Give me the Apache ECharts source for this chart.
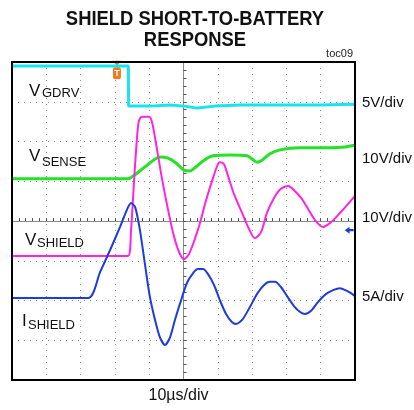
<!DOCTYPE html>
<html>
<head>
<meta charset="utf-8">
<script src="https://cdn.jsdelivr.net/npm/echarts@6/dist/echarts.min.js"></script>
<style>
html,body{margin:0;padding:0;background:#fff;}
#chart{width:414px;height:410px;}
</style>
</head>
<body>
<div id="chart"></div>
<script>
// Time in microseconds (10 us/div, screen spans -50..50 us); trace values in screen divisions (-4..4)
const vgdrv = [[-50,3.90],[-16.1,3.90],[-16.0,2.89],[-15.6,2.87],[-9.8,2.89],[-3.9,2.92],[0.4,2.89],[3.9,2.84],[9.2,2.89],[16.5,2.92],[28.1,2.92],[39.8,2.92],[50,2.94]];
const vsense = [[-50,1.06],[-16.2,1.06],[-14.7,1.13],[-12.7,1.26],[-9.8,1.46],[-6.9,1.61],[-4.5,1.58],[-2.2,1.46],[0.1,1.28],[1.9,1.26],[3.6,1.36],[6.0,1.53],[8.6,1.64],[13.6,1.66],[18.5,1.64],[20.0,1.56],[21.4,1.48],[22.9,1.53],[25.2,1.69],[28.1,1.79],[34.0,1.84],[42.7,1.84],[47.1,1.86],[50,1.91]];
const vshield = [[-50,-0.88],[-16.2,-0.88],[-15.3,-0.23],[-14.4,1.03],[-13.6,2.04],[-13.0,2.52],[-12.1,2.62],[-10.1,2.62],[-9.2,2.49],[-7.7,1.79],[-6.3,1.08],[-4.5,0.28],[-2.8,-0.38],[-1.3,-0.78],[0.1,-0.96],[1.6,-0.83],[3.4,-0.43],[4.8,-0.05],[6.6,0.53],[8.6,1.08],[9.8,1.38],[10.6,1.48],[11.8,1.43],[13.0,1.13],[14.7,0.68],[17.1,0.20],[19.1,-0.20],[20.8,-0.43],[22.6,-0.28],[24.3,0.20],[26.4,0.58],[28.4,0.81],[30.5,0.88],[32.5,0.75],[34.3,0.58],[36.0,0.35],[38.3,0.03],[40.7,-0.15],[43.0,-0.03],[45.6,0.20],[47.7,0.40],[50,0.63]];
const ishield = [[-50,-1.94],[-27.8,-1.94],[-24.3,-1.28],[-21.4,-0.73],[-18.5,-0.15],[-16.5,0.28],[-15.3,0.45],[-14.1,0.35],[-12.7,-0.23],[-11.2,-1.11],[-9.8,-1.91],[-8.3,-2.49],[-6.9,-2.92],[-5.4,-3.12],[-3.9,-2.92],[-2.5,-2.49],[-0.7,-1.99],[1.0,-1.56],[2.8,-1.31],[4.2,-1.21],[5.7,-1.21],[7.1,-1.33],[8.9,-1.61],[10.6,-1.99],[12.4,-2.34],[14.1,-2.54],[15.3,-2.59],[17.1,-2.49],[19.4,-2.16],[21.4,-1.84],[23.5,-1.61],[25.2,-1.53],[26.7,-1.53],[28.4,-1.66],[30.2,-1.89],[32.2,-2.14],[34.0,-2.29],[35.4,-2.34],[37.2,-2.26],[39.2,-2.04],[41.5,-1.84],[43.6,-1.74],[45.6,-1.69],[47.7,-1.76],[50,-1.89]];
const triggerMark = [-19.4, 3.72];
const triggerTop = [-19.4, 3.97];
const levelMark = [48.3, -0.23];
const scaleLabels = ['5V/div','10V/div','10V/div','5A/div'];
const timeLabel = '10\u00b5s/div';
const xRange = [-50, 50];
const yRange = [-4, 4];

const font = '"Liberation Sans", Arial, Helvetica, sans-serif';

const chart = echarts.init(document.getElementById('chart'));
const rightY = [103,159,218,297];
const graphics = [
  {type:'text', x:195, y:19, scaleX:0.92, style:{text:'SHIELD SHORT-TO-BATTERY', font:'bold 20px '+font, fill:'#111', textAlign:'center', textVerticalAlign:'middle'}},
  {type:'text', x:195, y:40.5, scaleX:0.92, style:{text:'RESPONSE', font:'bold 20px '+font, fill:'#111', textAlign:'center', textVerticalAlign:'middle'}},
  {type:'text', x:353, y:53.5, style:{text:'toc09', font:'11px '+font, fill:'#222', textAlign:'right', textVerticalAlign:'middle'}},
  {type:'text', x:178.5, y:395.5, style:{text:timeLabel, font:'16px '+font, fill:'#111', textAlign:'center', textVerticalAlign:'middle'}},
  {type:'text', x:29, y:91, style:{text:'V', font:'17px '+font, fill:'#111', textVerticalAlign:'middle'}},
  {type:'text', x:42, y:93, style:{text:'GDRV', font:'13px '+font, fill:'#111', textVerticalAlign:'middle'}},
  {type:'text', x:29, y:156, style:{text:'V', font:'17px '+font, fill:'#111', textVerticalAlign:'middle'}},
  {type:'text', x:42, y:162.5, style:{text:'SENSE', font:'13px '+font, fill:'#111', textVerticalAlign:'middle'}},
  {type:'text', x:25, y:240, style:{text:'V', font:'17px '+font, fill:'#111', textVerticalAlign:'middle'}},
  {type:'text', x:37, y:243.5, style:{text:'SHIELD', font:'13px '+font, fill:'#111', textVerticalAlign:'middle'}},
  {type:'text', x:22, y:321, style:{text:'I', font:'17px '+font, fill:'#111', textVerticalAlign:'middle'}},
  {type:'text', x:28, y:325, style:{text:'SHIELD', font:'13px '+font, fill:'#111', textVerticalAlign:'middle'}}
];
scaleLabels.forEach((s,i)=>{
  graphics.push({type:'text', x:362, y:rightY[i], style:{text:s, font:'15px '+font, fill:'#111', textVerticalAlign:'middle'}});
});

function trace(name, data, color, width, smooth, extra){
  return Object.assign({
    name, type:'line', data, showSymbol:false, symbol:'none',
    smooth: smooth, clip:true,
    lineStyle:{color, width}, itemStyle:{color}, z:5
  }, extra||{});
}

chart.setOption({
  animation:false,
  grid:{left:12, right:59, top:62, bottom:30, containLabel:false, outerBoundsMode:'none'},
  xAxis:{
    type:'value', min:xRange[0], max:xRange[1], interval:10,
    axisLine:{lineStyle:{color:'#8a8a8a', width:1}},
    axisLabel:{color:'rgba(0,0,0,0)', fontSize:8, inside:true},
    axisTick:{show:true, inside:true, length:3, lineStyle:{color:'#555', width:1}},
    minorTick:{show:true, splitNumber:5, length:3, lineStyle:{color:'#555', width:1}},
    splitLine:{show:true, lineStyle:{color:'#8c8c8c', type:[1,5], width:1}}
  },
  yAxis:{
    type:'value', min:yRange[0], max:yRange[1], interval:1,
    axisLine:{lineStyle:{color:'#8a8a8a', width:1}},
    axisLabel:{color:'rgba(0,0,0,0)', fontSize:8, inside:true},
    axisTick:{show:true, inside:true, length:3, lineStyle:{color:'#555', width:1}},
    minorTick:{show:true, splitNumber:5, length:3, lineStyle:{color:'#555', width:1}},
    splitLine:{show:true, lineStyle:{color:'#8c8c8c', type:[1,5], width:1}}
  },
  graphic:graphics,
  series:[
    trace('VGDRV', vgdrv, '#18E4F0', 3, false, {
      markPoint:{silent:true, data:[
        {coord:triggerTop, symbol:'triangle', symbolSize:[9,5], symbolRotate:180, itemStyle:{color:'#F07A1E'}, label:{show:false}},
        {coord:triggerMark, symbol:'roundRect', symbolSize:[8,12], itemStyle:{color:'#F07A1E'}, label:{show:true, formatter:'T', color:'#fff', fontSize:9, fontWeight:'bold', position:'inside'}}
      ]}
    }),
    trace('VSENSE', vsense, '#25E225', 3, 0.3),
    trace('VSHIELD', vshield, '#FF24E2', 2, 0.3),
    trace('ISHIELD', ishield, '#1E3CDB', 2, 0.25, {
      markPoint:{silent:true, data:[
        {coord:levelMark, symbol:'path://M0,5 L6,0 L6,3.5 L11,3.5 L11,6.5 L6,6.5 L6,10 Z', symbolSize:[9,7], itemStyle:{color:'#1E3CDB'}, label:{show:false}}
      ]}
    })
  ]
});

// black frame around the screen, placed through the library's own scales
const p0 = chart.convertToPixel({xAxisIndex:0, yAxisIndex:0}, [xRange[0], yRange[1]]);
const p1 = chart.convertToPixel({xAxisIndex:0, yAxisIndex:0}, [xRange[1], yRange[0]]);
chart.setOption({
  graphic: graphics.concat([{
    type:'rect', z:100, silent:true,
    shape:{x:p0[0], y:p0[1], width:p1[0]-p0[0], height:p1[1]-p0[1]},
    style:{fill:'none', stroke:'#000', lineWidth:2}
  }])
});
</script>
</body>
</html>
